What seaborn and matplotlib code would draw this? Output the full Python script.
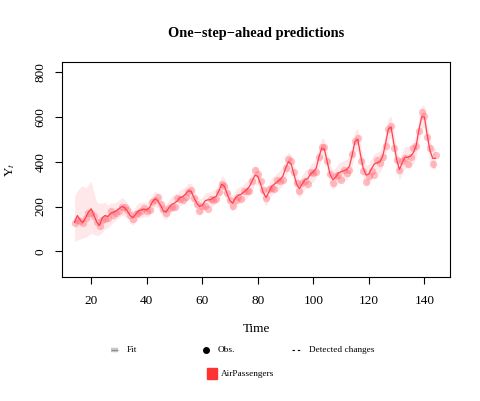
import numpy as np
import pandas as pd
import matplotlib
matplotlib.use("Agg")
import matplotlib.pyplot as plt
from matplotlib.lines import Line2D
from matplotlib.patches import Rectangle
import seaborn as sns

# AirPassengers, time index 14..144
time_idx = list(range(14, 145))
obs = [126, 141, 135, 125, 149, 170, 170, 158, 133, 114, 140,
       145, 150, 178, 163, 172, 178, 199, 199, 184, 162, 146, 166,
       171, 180, 193, 181, 183, 218, 230, 242, 209, 191, 172, 194,
       196, 196, 236, 235, 229, 243, 264, 272, 237, 211, 180, 201,
       204, 188, 235, 227, 234, 264, 302, 293, 259, 229, 203, 229,
       242, 233, 267, 269, 270, 315, 364, 347, 312, 274, 237, 278,
       284, 277, 317, 313, 318, 374, 413, 405, 355, 306, 271, 306,
       315, 301, 356, 348, 355, 422, 465, 467, 404, 347, 305, 336,
       340, 318, 362, 348, 363, 435, 491, 505, 404, 359, 310, 337,
       360, 342, 406, 396, 420, 472, 548, 559, 463, 407, 362, 405,
       417, 391, 419, 461, 472, 535, 622, 606, 508, 461, 390, 432]

# one-step-ahead predictions
fit = [128, 160, 140, 128, 150, 175, 190, 160, 130, 115, 150,
       160, 155, 170, 175, 180, 190, 200, 195, 180, 160, 150, 165,
       180, 185, 188, 185, 195, 220, 235, 225, 205, 180, 175, 195,
       210, 215, 225, 240, 245, 255, 270, 268, 240, 215, 200, 205,
       225, 230, 230, 240, 245, 270, 300, 290, 255, 225, 215, 240,
       250, 255, 265, 275, 290, 315, 340, 335, 300, 262, 240, 265,
       290, 300, 310, 320, 335, 370, 400, 390, 345, 300, 280, 300,
       320, 325, 345, 355, 370, 420, 460, 455, 400, 345, 320, 330,
       350, 355, 360, 365, 380, 430, 490, 500, 430, 370, 340, 345,
       370, 390, 395, 400, 425, 480, 545, 555, 480, 410, 365, 395,
       420, 420, 425, 440, 470, 540, 600, 600, 520, 450, 415, 415]

# credible interval bounds
lower = [43, 50, 55, 59, 62, 70, 80, 75, 70, 73, 85,
         100, 105, 120, 130, 140, 150, 160, 158, 145, 125, 118, 130,
         145, 150, 155, 153, 160, 185, 200, 192, 172, 148, 142, 160,
         175, 180, 190, 205, 210, 220, 235, 233, 205, 180, 165, 170,
         190, 195, 195, 205, 210, 233, 262, 253, 218, 190, 180, 203,
         213, 218, 228, 237, 252, 276, 300, 296, 262, 225, 203, 227,
         252, 262, 270, 280, 295, 328, 358, 349, 305, 260, 240, 260,
         278, 283, 302, 312, 326, 375, 414, 410, 356, 302, 277, 287,
         306, 311, 315, 320, 334, 383, 441, 452, 384, 325, 296, 300,
         324, 344, 348, 353, 377, 430, 494, 505, 432, 363, 318, 347,
         371, 372, 376, 390, 420, 488, 548, 550, 470, 402, 368, 368]
upper = [244, 270, 285, 293, 280, 300, 311, 260, 220, 214, 215,
         220, 205, 215, 215, 220, 230, 240, 232, 215, 195, 182, 200,
         215, 220, 221, 217, 230, 255, 270, 258, 238, 212, 208, 230,
         245, 250, 260, 275, 280, 290, 305, 303, 275, 250, 235, 240,
         260, 265, 265, 275, 280, 307, 338, 327, 292, 260, 250, 277,
         287, 292, 302, 313, 328, 354, 380, 374, 338, 299, 277, 303,
         328, 338, 350, 360, 375, 412, 442, 431, 385, 340, 320, 340,
         362, 367, 388, 398, 414, 465, 506, 500, 444, 388, 363, 373,
         394, 399, 405, 410, 426, 477, 539, 548, 476, 415, 384, 390,
         416, 436, 442, 447, 473, 530, 596, 605, 528, 457, 412, 443,
         469, 468, 474, 490, 520, 592, 652, 650, 570, 498, 462, 462]

x_ticks = [20, 40, 60, 80, 100, 120, 140]
y_ticks = [0, 200, 400, 600, 800]

df = pd.DataFrame({"time": time_idx, "obs": obs, "fit": fit,
                   "lower": lower, "upper": upper})

sns.set_style("white")
plt.rcParams["font.family"] = ["Liberation Serif", "DejaVu Serif"]
plt.rcParams["mathtext.fontset"] = "stix"
for key in ["text.color", "axes.labelcolor", "xtick.color", "ytick.color"]:
    plt.rcParams[key] = "black"

fig = plt.figure(figsize=(4.81, 4.01), dpi=100)
ax = fig.add_axes([0.129, 0.309, 0.807, 0.537])

ax.fill_between(df["time"], df["lower"], df["upper"],
                color="#ff3344", alpha=0.11, linewidth=0)
sns.scatterplot(data=df, x="time", y="obs", ax=ax, color="#ff6672",
                alpha=0.4, s=28, linewidth=0, legend=False)
sns.lineplot(data=df, x="time", y="fit", ax=ax, color="#ff4050",
             linewidth=0.9, legend=False)

ax.set_xlim(9.5, 149.3)
ax.set_ylim(-115, 846)
ax.set_xticks(x_ticks)
ax.set_yticks(y_ticks)
ax.tick_params(axis="both", direction="out", length=5, width=0.8,
               labelsize=9.5, bottom=True, left=True)
ax.tick_params(axis="x", pad=8)
ax.tick_params(axis="y", pad=6)
for lab in ax.get_yticklabels():
    lab.set_rotation(90)
    lab.set_va("center")
for sp in ax.spines.values():
    sp.set_visible(True)
    sp.set_color("black")
    sp.set_linewidth(0.8)

ax.set_xlabel("Time", fontsize=9.5)
ax.xaxis.set_label_coords(0.5, -0.215)
ax.set_ylabel(r"Y$_t$", fontsize=9.5)
ax.yaxis.set_label_coords(-0.115, 0.5)
ax.set_title("One\u2212step\u2212ahead predictions", fontsize=10.4,
             fontweight="bold", pad=17.5)

# legend rows below the plot, in pixel positions of a 481x401 figure
W, H = 481.0, 401.0
row1 = 1 - 350 / H
row2 = 1 - 373.5 / H
fig.add_artist(Line2D([110.5 / W, 118.5 / W], [row1, row1], color="#c8c8c8",
                      lw=3.2, transform=fig.transFigure, solid_capstyle="butt"))
fig.add_artist(Line2D([110.5 / W, 118.5 / W], [row1, row1], color="#8c8c8c",
                      lw=0.8, transform=fig.transFigure, solid_capstyle="butt"))
fig.text(126.5 / W, row1, "Fit", fontsize=6.7, va="center")
fig.add_artist(Line2D([205.7 / W], [row1], color="black", marker="o", ls="",
                      markersize=4, transform=fig.transFigure))
fig.text(218 / W, row1, "Obs.", fontsize=6.7, va="center")
fig.add_artist(Line2D([292 / W, 301 / W], [row1, row1], color="black",
                      ls=(0, (2.2, 2.6)), lw=0.8, transform=fig.transFigure))
fig.text(309 / W, row1, "Detected changes", fontsize=6.7, va="center")
fig.add_artist(Rectangle((206.7 / W, 1 - 379 / H), 10 / W, 11 / H,
                         color="#ff3333", transform=fig.transFigure))
fig.text(220.7 / W, row2, "AirPassengers", fontsize=6.7, va="center")

fig.savefig("out.png", dpi=100)
